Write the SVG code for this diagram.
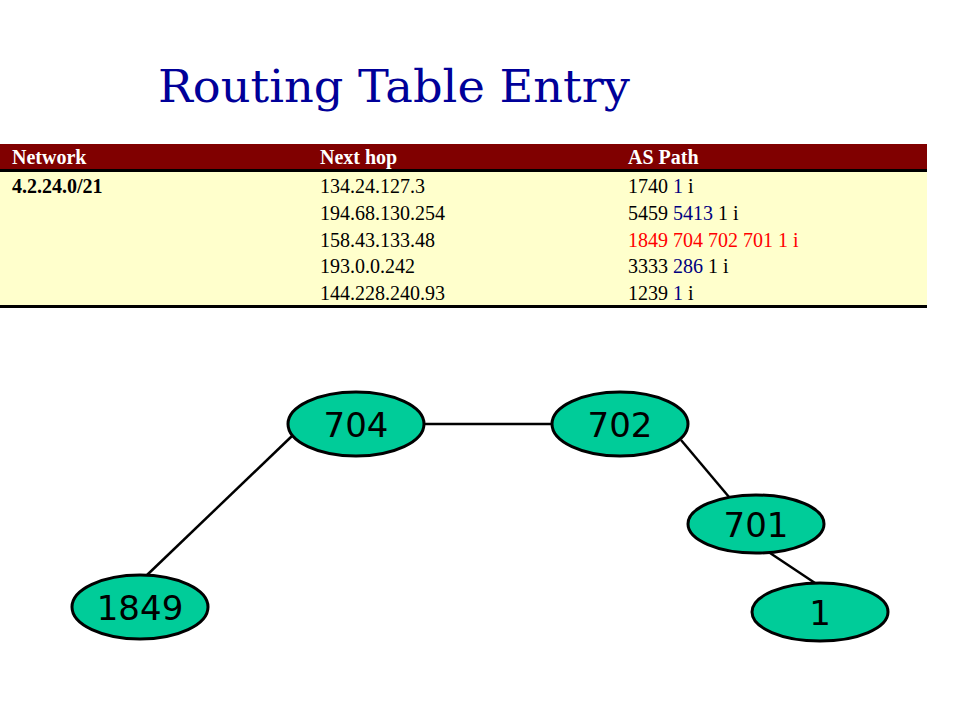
<svg xmlns="http://www.w3.org/2000/svg" width="960" height="720" viewBox="0 0 960 720">
<style>
.th{font-family:"Liberation Serif",serif;font-weight:bold;font-size:20px;fill:#ffffff}
.td{font-family:"Liberation Serif",serif;font-size:20px;fill:#000000}
.b{fill:#000080}
.r{fill:#ff0000}
.node ellipse{fill:#00cc99;stroke:#000000;stroke-width:3}
.node text{font-family:"DejaVu Sans",sans-serif;font-size:34px;fill:#000000;text-anchor:middle}
.conn line{stroke:#000000;stroke-width:2.5}
</style>
<rect width="960" height="720" fill="#ffffff"/>
<text x="158" y="102" font-family="DejaVu Serif,serif" font-size="44" fill="#000099" textLength="472" lengthAdjust="spacingAndGlyphs">Routing Table Entry</text>
<g id="table">
<rect x="0" y="144" width="927" height="26" fill="#800000"/>
<rect x="0" y="172" width="927" height="133" fill="#ffffcc"/>
<rect x="0" y="169" width="927" height="3" fill="#000000"/>
<rect x="0" y="305" width="927" height="3" fill="#000000"/>
<text class="th" x="12" y="164">Network</text>
<text class="th" x="320" y="164">Next hop</text>
<text class="th" x="628" y="164">AS Path</text>
<text class="td" x="12" y="193" font-weight="bold">4.2.24.0/21</text>
<text class="td" x="320" y="193">134.24.127.3</text>
<text class="td" x="320" y="220">194.68.130.254</text>
<text class="td" x="320" y="247">158.43.133.48</text>
<text class="td" x="320" y="273">193.0.0.242</text>
<text class="td" x="320" y="300">144.228.240.93</text>
<text class="td" x="628" y="193">1740 <tspan class="b">1</tspan> i</text>
<text class="td" x="628" y="220">5459 <tspan class="b">5413</tspan> 1 i</text>
<text class="td r" x="628" y="247">1849 704 702 701 1 i</text>
<text class="td" x="628" y="273">3333 <tspan class="b">286</tspan> 1 i</text>
<text class="td" x="628" y="300">1239 <tspan class="b">1</tspan> i</text>
</g>
<g id="connectors" class="conn">
<line x1="292" y1="436" x2="146" y2="576"/>
<line x1="425" y1="424" x2="551" y2="424"/>
<line x1="681" y1="440" x2="729" y2="497"/>
<line x1="770" y1="553" x2="815" y2="583"/>
</g>
<g id="node-704" class="node"><ellipse cx="356" cy="424" rx="68" ry="32"/><text x="356" y="437">704</text></g>
<g id="node-702" class="node"><ellipse cx="620" cy="424" rx="68" ry="32"/><text x="620" y="437">702</text></g>
<g id="node-701" class="node"><ellipse cx="756" cy="524" rx="68" ry="29"/><text x="756" y="537">701</text></g>
<g id="node-1849" class="node"><ellipse cx="140" cy="607" rx="68" ry="32"/><text x="140" y="620">1849</text></g>
<g id="node-1" class="node"><ellipse cx="820" cy="612" rx="68" ry="29"/><text x="820" y="625">1</text></g>
</svg>
